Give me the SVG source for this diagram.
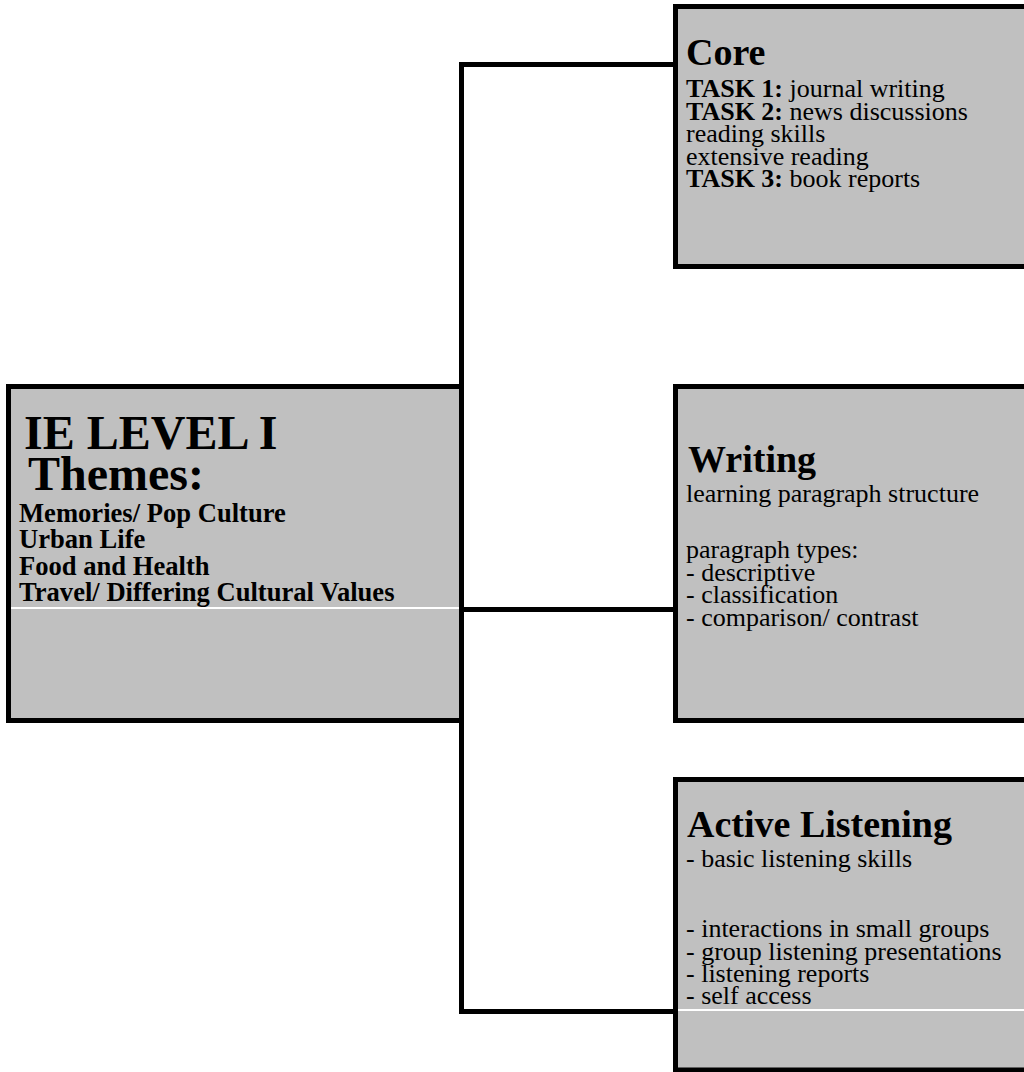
<svg xmlns="http://www.w3.org/2000/svg" width="1024" height="1072" viewBox="0 0 1024 1072">
<style>
.box{fill:#c0c0c0;stroke:#000;stroke-width:5}
.conn{fill:none;stroke:#000;stroke-width:5;stroke-linecap:square}
.sep{stroke:#fff;stroke-width:2}
text{font-family:"Liberation Serif","Times New Roman",serif;fill:#000}
.big{font-size:48px;font-weight:bold}
.sub{font-size:26.6px;font-weight:bold}
.title{font-size:38px;font-weight:bold}
.body{font-size:26px}
.b{font-weight:bold}
</style>
<rect width="1024" height="1072" fill="#fff"/>
<g id="node-level">
<rect class="box" x="8.5" y="386.5" width="453" height="334"/>
<line class="sep" x1="11" y1="608" x2="459" y2="608"/>
<text class="big" x="24" y="449">IE LEVEL I</text>
<text class="big" x="28" y="490">Themes:</text>
<text class="sub" x="19" y="522">Memories/ Pop Culture</text>
<text class="sub" x="19" y="548">Urban Life</text>
<text class="sub" x="19" y="574.5">Food and Health</text>
<text class="sub" x="19" y="601">Travel/ Differing Cultural Values</text>
</g>
<g id="node-core">
<rect class="box" x="675.5" y="6.5" width="400" height="260"/>
<text class="title" x="686" y="65">Core</text>
<text class="body" x="686" y="97"><tspan class="b">TASK 1:</tspan> journal writing</text>
<text class="body" x="686" y="119.5"><tspan class="b">TASK 2:</tspan> news discussions</text>
<text class="body" x="686" y="142">reading skills</text>
<text class="body" x="686" y="164.5">extensive reading</text>
<text class="body" x="686" y="187"><tspan class="b">TASK 3:</tspan> book reports</text>
</g>
<g id="node-writing">
<rect class="box" x="675.5" y="386.5" width="400" height="334"/>
<text class="title" x="688" y="472">Writing</text>
<text class="body" x="686" y="501.5">learning paragraph structure</text>
<text class="body" x="686" y="558">paragraph types:</text>
<text class="body" x="686" y="580.5">- descriptive</text>
<text class="body" x="686" y="603">- classification</text>
<text class="body" x="686" y="625.5">- comparison/ contrast</text>
</g>
<g id="node-listening">
<rect class="box" x="675.5" y="779.5" width="400" height="290.5"/>
<line class="sep" x1="678" y1="1010" x2="1024" y2="1010"/>
<text class="title" x="687" y="837">Active Listening</text>
<text class="body" x="686" y="866.5">- basic listening skills</text>
<text class="body" x="686" y="937">- interactions in small groups</text>
<text class="body" x="686" y="959.5">- group listening presentations</text>
<text class="body" x="686" y="982">- listening reports</text>
<text class="body" x="686" y="1004">- self access</text>
</g>
<g id="connectors">
<polyline class="conn" points="675.5,64.5 461.5,64.5 461.5,1011.5 675.5,1011.5"/>
<line class="conn" x1="461.5" y1="609.5" x2="675.5" y2="609.5"/>
</g>
</svg>
